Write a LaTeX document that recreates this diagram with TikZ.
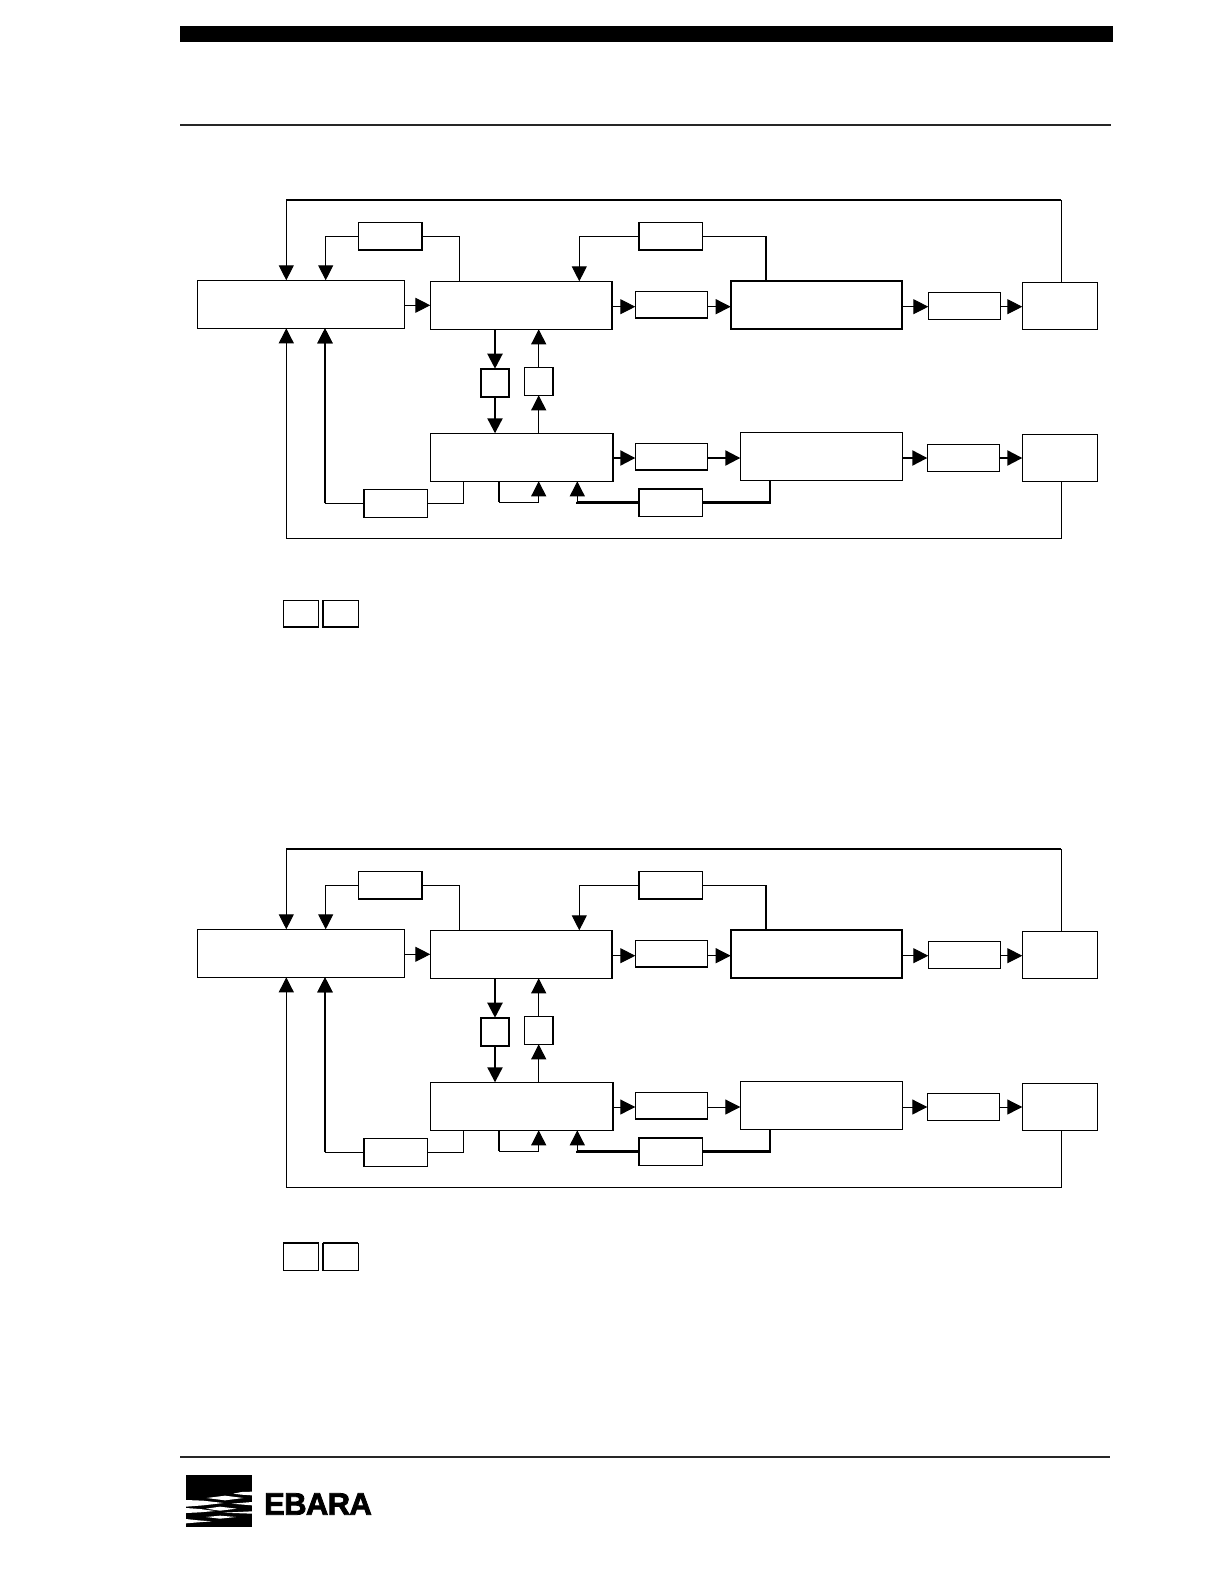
\documentclass[tikz,border=0pt]{standalone}
\usepackage{fontspec}
\setmainfont{Liberation Sans}
\newfontfamily\logofont[FakeBold=2.5,LetterSpace=-2]{Liberation Sans Bold}
\usetikzlibrary{arrows.meta}
\tikzset{
  box/.style={draw=black,line width=1pt,fill=white,inner sep=0pt,outer sep=0pt,rectangle},
  thn/.style={draw=black,line width=1pt},
  thk/.style={draw=black,line width=2.2pt},
  arr/.style={-{Triangle[length=15pt,width=15pt]}},
  lowrow/.style={thn},
  rule/.style={draw=black!85,line width=2pt},
  sliver/.style={fill=white,draw=none}
}
\newcommand\bx[6][]{\node[box,#1,minimum width={(#5-#3)*1pt},minimum height={(#6-#4)*1pt}] (#2) at ({(#3+#5)/2},{(#4+#6)/2}) {};}
\newcommand\chart{%
  \coordinate (v1) at (286.3,0);
  \coordinate (v2) at (325.7,0);
  \coordinate (v3) at (325,0);
  \coordinate (v4) at (459.3,0);
  \coordinate (v5) at (463.7,0);
  \coordinate (v6) at (495,0);
  \coordinate (v7) at (499,0);
  \coordinate (v8) at (538.7,0);
  \coordinate (v9) at (577.3,0);
  \coordinate (v10) at (579.3,0);
  \coordinate (v11) at (766,0);
  \coordinate (v12) at (770,0);
  \coordinate (v13) at (1061.3,0);
  \coordinate (h1) at (0,200);
  \coordinate (h2) at (0,538.7);
  \coordinate (h3) at (0,502.3);
  \coordinate (r1) at (0,306.7);
  \coordinate (r2) at (0,458);
  % boxes
  \bx{A}{197.3}{280.3}{404.3}{328.3}
  \bx{B}{430.3}{281.3}{612.3}{329.3}
  \bx{C}{430.3}{433.3}{613.3}{481.3}
  \bx{T1}{358.3}{222.3}{422.3}{250.3}
  \bx{T2}{638.7}{222.3}{702.7}{250.3}
  \bx{B1}{635.3}{291.3}{707.7}{318}
  \bx{D}{730.7}{280.7}{902.3}{329}
  \bx{E}{928.3}{292.3}{1000.3}{319.3}
  \bx{F}{1022.3}{282.3}{1097.7}{329.3}
  \bx{B2}{635.3}{443.3}{707.7}{470.3}
  \bx{D2}{740.3}{432.3}{902.3}{480.3}
  \bx{E2}{927.3}{444.3}{999.7}{471.3}
  \bx{F2}{1022.3}{434.3}{1097.7}{481.7}
  \bx{T3}{638.7}{488.7}{702.7}{516.3}
  \bx{T4}{363.7}{489.3}{427.3}{517.3}
  \bx{S1}{480.7}{368.7}{509.3}{397.3}
  \bx{S2}{524.3}{367.3}{553.3}{395.3}
  % heavier box edges
  \draw[thk] (T1.south west) -- (T1.south east) -- (T1.north east);
  \draw[thk] (T2.north west) -- (T2.south west) -- (T2.south east);
  \draw[thk] (B.north east) -- (B.south east);
  \draw[thk] (C.north east) -- (C.south east);
  \draw[thk] (B1.south west) -- (B1.south east);
  \draw[thk] (B2.south west) -- (B2.south east);
  \draw[thk] (D.north west) rectangle (D.south east);
  \draw[thk] (S1.north west) rectangle (S1.south east);
  \draw[thk] (S2.north east) -- (S2.south east);
  \draw[thk] (T3.south west) -- (T3.north west) -- (T3.north east);
  \draw[thk] (T4.north west) -- (T4.south west);
  % outer loops
  \draw[thn,arr] (v13 |- F.north) |- (v1 |- h1) -- (v1 |- A.north);
  \draw[thk] (v1 |- h1) -- (v13 |- h1);
  \draw[thn,arr] (v13 |- F2.south) |- (v1 |- h2) -- (v1 |- A.south);
  % upper feedback
  \draw[thn,arr] (T1.west) -| (v2 |- A.north);
  \draw[thn] (v4 |- B.north) |- (T1.east);
  \draw[thn,arr] (T2.west) -| (v10 |- B.north);
  \draw[thn] (v11 |- D.north) |- (T2.east);
  \draw[thk] (v11 |- D.north) -- (v11 |- T2.east);
  % upper row
  \draw[thn,arr] (A.east |- B.west) -- (B.west);
  \draw[thn,arr] (B.east |- r1) -- (B1.west |- r1);
  \draw[thn,arr] (B1.east |- r1) -- (D.west |- r1);
  \draw[thn,arr] (D.east |- r1) -- (E.west |- r1);
  \draw[thn,arr] (E.east |- r1) -- (F.west |- r1);
  % verticals between B and C
  \draw[thk,arr] (v6 |- B.south) -- (v6 |- S1.north);
  \draw[thk,arr] (v6 |- S1.south) -- (v6 |- C.north);
  \draw[thn,arr] (v8 |- C.north) -- (v8 |- S2.south);
  \draw[thn,arr] (v8 |- S2.north) -- (v8 |- B.south);
  % lower row
  \draw[lowrow,arr] (C.east |- r2) -- (B2.west |- r2);
  \draw[lowrow,arr] (B2.east |- r2) -- (D2.west |- r2);
  \draw[lowrow,arr] (D2.east |- r2) -- (E2.west |- r2);
  \draw[lowrow,arr] (E2.east |- r2) -- (F2.west |- r2);
  % lower feedback
  \draw[thn,arr] (T4.west) -| (v3 |- A.south);
  \draw[thk,arr] (v3 |- T4.west) -- (v3 |- A.south);
  \draw[thn] (v5 |- C.south) |- (T4.east);
  \draw[thn,arr] (v7 |- C.south) |- (v8 |- h3) -- (v8 |- C.south);
  \draw[thk] (v7 |- C.south) -- (v7 |- h3);
  \draw[thk] (T3.west) -| (v9 |- h3);
  \draw[thn,arr] (v9 |- T3.west) -- (v9 |- C.south);
  \draw[thk] (v12 |- D2.south) |- (T3.east);
}
\begin{document}
\begin{tikzpicture}[x=1pt,y=-1pt]
\useasboundingbox (0,0) rectangle (1224,1584);
% header
\fill[black] (180,26) rectangle (1113,42);
\draw[rule] (180,125.5) -- (1111,125.5);
% first chart
\begin{scope}[name prefix=one-,lowrow/.style={thk}]
  \chart
  \bx{L1}{283.3}{600.3}{318.7}{627}
  \bx{L2}{322.7}{600.3}{358.3}{627}
  \draw[thk] (L1.south west) -- (L1.south east);
  \draw[thk] (L2.south west) -- (L2.south east);
  \draw[thk] (L2.north west) -- (L2.south west);
\end{scope}
% second chart
\begin{scope}[shift={(0,649)},name prefix=two-,lowrow/.style={thn}]
  \chart
\end{scope}
\begin{scope}[name prefix=two-]
  \bx{L1}{283.3}{1243.3}{318.7}{1270.7}
  \bx{L2}{322.7}{1243.3}{358.3}{1270.7}
  \draw[thk] (L1.north west) -- (L1.north east);
  \draw[thk] (L2.north west) -- (L2.north east);
  \draw[thk] (L2.north west) -- (L2.south west);
\end{scope}
% footer
\draw[rule] (180,1457.3) -- (1110,1457.3);
\fill[black] (186,1474.7) rectangle (252,1527.3);
\begin{scope}[shift={(180,1468)},x=0.3333pt,y=-0.3333pt]
  \fill[sliver] (216,71) -- (185,72) -- (160,77) -- (185,80) -- (216,82) -- cycle;
  \fill[sliver] (80,90) -- (135,83) -- (190,90) -- (135,97) -- cycle;
  \fill[sliver] (18,96) -- (70,98) -- (130,105) -- (70,112) -- (18,116) -- cycle;
  \fill[sliver] (216,102) -- (155,107) -- (216,112) -- cycle;
  \fill[sliver] (78,122) -- (120,116) -- (170,122) -- (120,128) -- cycle;
  \fill[sliver] (18,120) -- (60,123) -- (105,129) -- (60,133) -- (18,135) -- cycle;
  \fill[sliver] (216,130) -- (130,134) -- (216,137) -- cycle;
  \fill[sliver] (78,147) -- (120,143) -- (168,147) -- (120,152) -- cycle;
  \fill[sliver] (18,153) -- (55,157) -- (95,160) -- (55,163) -- (18,166) -- cycle;
\end{scope}
\node[inner sep=0pt,outer sep=0pt,font=\logofont\fontsize{31}{31}\selectfont] (logo) at (318,1504) {EBARA};
\end{tikzpicture}
\end{document}
